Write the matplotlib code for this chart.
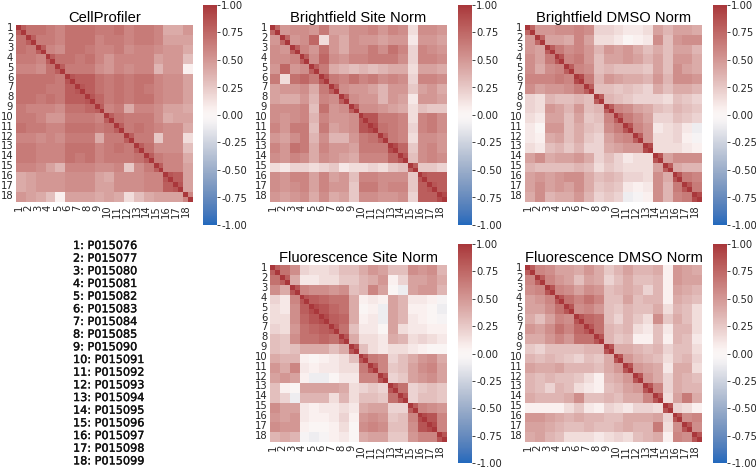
import numpy as np
import matplotlib
matplotlib.use("Agg")
import matplotlib.pyplot as plt
import matplotlib.patheffects as pe
import seaborn as sns

# compound ids shown in the legend list
compounds = ["P015076", "P015077", "P015080", "P015081", "P015082", "P015083",
             "P015084", "P015085", "P015090", "P015091", "P015092", "P015093",
             "P015094", "P015095", "P015096", "P015097", "P015098", "P015099"]

# lower triangles of compound-level correlations (row i holds cols 1..i);
# the last value of each row is the correlation between the two replicates
cellprofiler = [
    [0.8],
    [0.7, 0.8],
    [0.7, 0.65, 0.8],
    [0.65, 0.65, 0.6, 0.8],
    [0.6, 0.6, 0.55, 0.7, 0.8],
    [0.7, 0.7, 0.7, 0.7, 0.65, 0.85],
    [0.7, 0.7, 0.7, 0.65, 0.65, 0.8, 0.85],
    [0.7, 0.7, 0.65, 0.7, 0.65, 0.8, 0.8, 0.85],
    [0.65, 0.6, 0.6, 0.6, 0.55, 0.7, 0.7, 0.75, 0.8],
    [0.65, 0.65, 0.6, 0.5, 0.5, 0.65, 0.65, 0.65, 0.6, 0.8],
    [0.7, 0.65, 0.65, 0.6, 0.6, 0.7, 0.7, 0.7, 0.65, 0.7, 0.8],
    [0.6, 0.6, 0.55, 0.6, 0.55, 0.65, 0.65, 0.65, 0.4, 0.65, 0.65, 0.8],
    [0.65, 0.65, 0.6, 0.6, 0.6, 0.7, 0.7, 0.7, 0.6, 0.65, 0.7, 0.65, 0.8],
    [0.65, 0.65, 0.6, 0.6, 0.6, 0.7, 0.65, 0.7, 0.6, 0.65, 0.65, 0.65, 0.7, 0.8],
    [0.6, 0.6, 0.55, 0.45, 0.35, 0.6, 0.6, 0.6, 0.55, 0.55, 0.6, 0.25, 0.55, 0.65, 0.8],
    [0.4, 0.45, 0.5, 0.5, 0.5, 0.55, 0.55, 0.55, 0.45, 0.4, 0.55, 0.55, 0.55, 0.6, 0.6, 0.85],
    [0.4, 0.45, 0.5, 0.5, 0.5, 0.55, 0.55, 0.55, 0.45, 0.45, 0.55, 0.55, 0.55, 0.6, 0.6, 0.8, 0.85],
    [0.5, 0.45, 0.4, 0.3, 0.05, 0.45, 0.45, 0.45, 0.4, 0.45, 0.4, 0.15, 0.3, 0.4, 0.45, 0.45, 0.45, 0.6],
]

bf_site = [
    [0.75],
    [0.5, 0.75],
    [0.55, 0.5, 0.8],
    [0.55, 0.55, 0.6, 0.8],
    [0.5, 0.75, 0.5, 0.55, 0.8],
    [0.65, 0.15, 0.7, 0.75, 0.65, 0.85],
    [0.45, 0.5, 0.5, 0.55, 0.4, 0.65, 0.8],
    [0.45, 0.4, 0.4, 0.5, 0.35, 0.6, 0.55, 0.8],
    [0.55, 0.55, 0.55, 0.6, 0.3, 0.7, 0.5, 0.55, 0.8],
    [0.55, 0.5, 0.55, 0.6, 0.35, 0.6, 0.5, 0.5, 0.55, 0.85],
    [0.6, 0.5, 0.65, 0.65, 0.3, 0.65, 0.45, 0.5, 0.55, 0.85, 0.9],
    [0.5, 0.45, 0.55, 0.65, 0.35, 0.55, 0.35, 0.35, 0.5, 0.65, 0.7, 0.8],
    [0.6, 0.5, 0.7, 0.65, 0.4, 0.6, 0.5, 0.5, 0.45, 0.65, 0.65, 0.65, 0.9],
    [0.55, 0.5, 0.6, 0.55, 0.4, 0.55, 0.5, 0.45, 0.4, 0.6, 0.6, 0.6, 0.75, 0.85],
    [0.15, 0.1, 0.2, 0.2, 0.15, 0.2, 0.25, 0.1, 0.15, 0.15, 0.2, 0.15, 0.25, 0.3, 0.8],
    [0.55, 0.5, 0.6, 0.6, 0.45, 0.6, 0.45, 0.5, 0.3, 0.6, 0.6, 0.55, 0.55, 0.55, 0.25, 0.85],
    [0.55, 0.5, 0.55, 0.6, 0.45, 0.6, 0.5, 0.5, 0.25, 0.65, 0.65, 0.55, 0.6, 0.6, 0.25, 0.8, 0.85],
    [0.5, 0.45, 0.5, 0.55, 0.4, 0.55, 0.4, 0.45, 0.25, 0.55, 0.55, 0.5, 0.5, 0.55, 0.2, 0.8, 0.8, 0.9],
]

bf_dmso = [
    [0.75],
    [0.5, 0.75],
    [0.5, 0.45, 0.8],
    [0.55, 0.45, 0.65, 0.85],
    [0.55, 0.4, 0.55, 0.6, 0.8],
    [0.6, 0.6, 0.6, 0.65, 0.6, 0.9],
    [0.55, 0.45, 0.5, 0.5, 0.55, 0.65, 0.8],
    [0.2, 0.15, 0.35, 0.3, 0.3, 0.35, 0.3, 0.8],
    [0.2, 0.15, 0.5, 0.45, 0.35, 0.5, 0.3, 0.35, 0.8],
    [0.15, 0.1, 0.45, 0.45, 0.3, 0.45, 0.25, 0.3, 0.6, 0.8],
    [0.1, 0.0, 0.5, 0.5, 0.3, 0.4, 0.3, 0.25, 0.55, 0.65, 0.85],
    [0.1, 0.05, 0.4, 0.45, 0.3, 0.4, 0.25, 0.2, 0.45, 0.55, 0.6, 0.8],
    [0.15, 0.1, 0.3, 0.35, 0.25, 0.35, 0.2, 0.2, 0.4, 0.45, 0.5, 0.5, 0.9],
    [0.45, 0.55, 0.4, 0.45, 0.45, 0.5, 0.4, 0.2, 0.3, 0.2, 0.1, 0.15, 0.15, 0.85],
    [0.35, 0.3, 0.3, 0.3, 0.3, 0.35, 0.3, 0.15, 0.25, 0.2, 0.15, 0.15, 0.15, 0.45, 0.8],
    [0.45, 0.5, 0.45, 0.5, 0.55, 0.55, 0.4, 0.3, 0.35, 0.3, 0.2, 0.2, 0.15, 0.55, 0.4, 0.85],
    [0.45, 0.55, 0.45, 0.5, 0.45, 0.55, 0.4, 0.25, 0.3, 0.25, 0.1, 0.05, 0.1, 0.55, 0.35, 0.65, 0.85],
    [0.4, 0.55, 0.35, 0.4, 0.4, 0.5, 0.35, 0.2, 0.25, 0.2, -0.1, -0.05, 0.05, 0.55, 0.35, 0.6, 0.65, 0.9],
]

fl_site = [
    [0.8],
    [0.7, 0.8],
    [0.55, 0.4, 0.85],
    [0.2, 0.1, 0.6, 0.85],
    [0.15, 0.1, 0.55, 0.8, 0.9],
    [0.15, 0.15, 0.55, 0.75, 0.85, 0.9],
    [0.2, 0.15, 0.5, 0.7, 0.75, 0.8, 0.85],
    [0.3, 0.25, 0.55, 0.7, 0.7, 0.75, 0.7, 0.85],
    [0.3, 0.25, 0.3, 0.4, 0.4, 0.4, 0.3, 0.4, 0.85],
    [0.4, 0.35, 0.35, 0.05, 0.0, 0.05, 0.1, 0.15, 0.3, 0.85],
    [0.5, 0.4, 0.6, 0.1, 0.05, 0.1, 0.1, 0.15, 0.15, 0.65, 0.85],
    [0.45, 0.5, 0.45, 0.05, -0.1, -0.1, 0.0, 0.1, 0.1, 0.6, 0.6, 0.85],
    [0.3, 0.05, 0.0, 0.45, 0.45, 0.45, 0.45, 0.4, 0.15, 0.2, 0.25, 0.2, 0.85],
    [0.3, 0.2, -0.1, 0.35, 0.35, 0.35, 0.15, 0.35, 0.15, 0.3, 0.3, 0.25, 0.7, 0.85],
    [0.55, 0.45, 0.45, 0.1, 0.05, 0.1, 0.1, 0.15, 0.1, 0.4, 0.45, 0.45, 0.2, 0.2, 0.8],
    [0.5, 0.45, 0.5, 0.1, 0.05, 0.05, 0.1, 0.2, 0.05, 0.5, 0.55, 0.5, 0.25, 0.3, 0.6, 0.9],
    [0.55, 0.5, 0.5, 0.05, 0.0, 0.0, 0.05, 0.15, 0.0, 0.55, 0.6, 0.55, 0.3, 0.3, 0.55, 0.85, 0.9],
    [0.35, 0.4, 0.35, -0.05, -0.1, -0.05, 0.05, 0.1, 0.0, 0.4, 0.45, 0.45, 0.25, 0.25, 0.5, 0.6, 0.6, 0.85],
]

fl_dmso = [
    [0.8],
    [0.6, 0.8],
    [0.55, 0.6, 0.85],
    [0.45, 0.5, 0.6, 0.85],
    [0.45, 0.45, 0.55, 0.7, 0.85],
    [0.4, 0.3, 0.45, 0.6, 0.55, 0.85],
    [0.5, 0.45, 0.55, 0.7, 0.6, 0.75, 0.85],
    [0.4, 0.4, 0.5, 0.6, 0.5, 0.7, 0.7, 0.85],
    [0.25, 0.2, 0.3, 0.3, 0.3, 0.3, 0.35, 0.35, 0.85],
    [0.35, 0.3, 0.35, 0.3, 0.25, 0.2, 0.3, 0.25, 0.4, 0.85],
    [0.45, 0.4, 0.4, 0.45, 0.35, 0.35, 0.35, 0.3, 0.4, 0.5, 0.85],
    [0.35, 0.3, 0.35, 0.3, 0.3, 0.25, 0.15, 0.05, 0.35, 0.4, 0.5, 0.85],
    [0.35, 0.3, 0.2, 0.35, 0.3, 0.15, 0.1, 0.05, 0.3, 0.35, 0.45, 0.5, 0.85],
    [0.4, 0.35, 0.35, 0.35, 0.4, 0.55, 0.3, 0.3, 0.35, 0.3, 0.4, 0.4, 0.6, 0.85],
    [0.05, 0.05, 0.05, 0.05, 0.15, 0.25, 0.1, 0.05, 0.2, 0.15, 0.1, 0.2, 0.2, 0.15, 0.85],
    [0.5, 0.5, 0.45, 0.4, 0.35, 0.4, 0.35, 0.35, 0.3, 0.3, 0.4, 0.4, 0.4, 0.45, 0.2, 0.85],
    [0.45, 0.45, 0.4, 0.35, 0.3, 0.3, 0.35, 0.3, 0.3, 0.35, 0.4, 0.35, 0.35, 0.65, 0.15, 0.55, 0.85],
    [0.4, 0.45, 0.35, 0.3, 0.15, 0.15, 0.15, 0.1, 0.15, 0.2, 0.15, 0.3, 0.35, 0.4, 0.05, 0.6, 0.55, 0.85],
]

titles = ["CellProfiler", "Brightfield Site Norm", "Brightfield DMSO Norm",
          "Fluorescence Site Norm", "Fluorescence DMSO Norm"]
panels = [cellprofiler, bf_site, bf_dmso, fl_site, fl_dmso]
cbar_ticks = [1.0, 0.75, 0.5, 0.25, 0.0, -0.25, -0.5, -0.75, -1.0]

W, H = 756, 469
# heatmap box (left, top) and colorbar box (left, top, width, height) in pixels
heat_boxes = [(16, 25), (270, 25), (525, 25), (270, 265), (525, 265)]
cbar_boxes = [(203, 5, 14, 220), (458, 5, 14, 220), (713, 5, 14, 220),
              (458, 244, 14, 219), (713, 244, 14, 219)]
HEAT = 177

def full_matrix(tri):
    n = len(tri)
    m = np.zeros((n, n))
    for i, row in enumerate(tri):
        for j, v in enumerate(row):
            m[i, j] = v
            m[j, i] = v
    # two replicates per compound
    big = np.repeat(np.repeat(m, 2, axis=0), 2, axis=1)
    np.fill_diagonal(big, 1.0)
    return big

def px_axes(fig, x, y, w, h):
    return fig.add_axes([x / W, 1 - (y + h) / H, w / W, h / H])

cmap = sns.color_palette("vlag", as_cmap=True)
tick_color = "#262626"

fig = plt.figure(figsize=(W / 100, H / 100), dpi=100)

for tri, title, hb, cb in zip(panels, titles, heat_boxes, cbar_boxes):
    data = full_matrix(tri)
    n = data.shape[0]
    ax = px_axes(fig, hb[0], hb[1], HEAT, HEAT)
    mesh = ax.pcolormesh(data, cmap=cmap, vmin=-1, vmax=1)
    ax.set_xlim(0, n)
    ax.set_ylim(n, 0)
    pos = np.arange(0, n, 2) + 0.5
    labels = [str(k + 1) for k in range(len(tri))]
    ax.set_xticks(pos)
    ax.set_xticklabels(labels, rotation=90)
    ax.set_yticks(pos)
    ax.set_yticklabels(labels, rotation=0)
    ax.tick_params(length=0, pad=2, labelsize=7.2, colors=tick_color)
    for s in ax.spines.values():
        s.set_visible(False)
    ax.set_title(title, fontsize=10.6, family="Liberation Sans", pad=1.5)

    cax = px_axes(fig, *cb)
    cbar = fig.colorbar(mesh, cax=cax, ticks=cbar_ticks, format="%.2f")
    cbar.outline.set_visible(False)
    cax.tick_params(length=2, width=0.6, pad=1, labelsize=7.2,
                    colors=tick_color)

# compound key, slightly heavier than regular text
stroke = [pe.withStroke(linewidth=0.25, foreground="#111111")]
for k, cid in enumerate(compounds):
    fig.text(73 / W, 1 - (246 + k * 12.67) / H, f"{k + 1}: {cid}",
             fontsize=8.1, va="center", ha="left", color="#111111",
             path_effects=stroke)

fig.savefig("out.png", dpi=100)
